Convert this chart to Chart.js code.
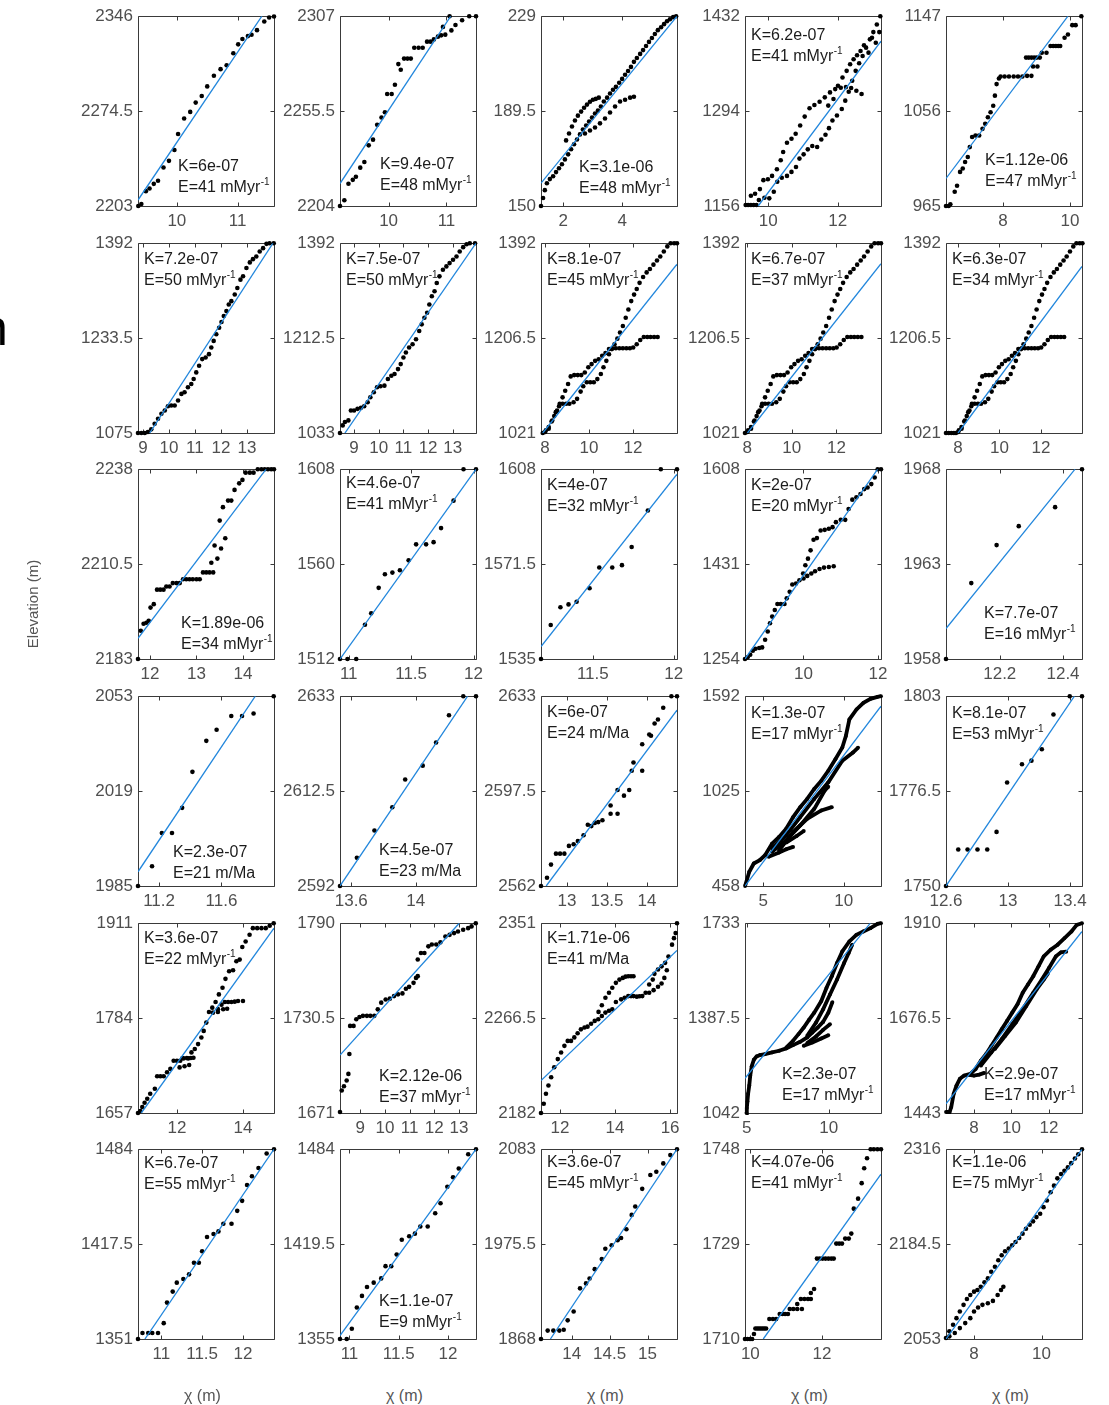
<!DOCTYPE html>
<html>
<head>
<meta charset="utf-8">
<script src="https://cdn.jsdelivr.net/npm/chart.js@4.4.0/dist/chart.umd.min.js"></script>
<style>
  body { margin: 0; background: #fff; width: 1109px; height: 1405px; position: relative; overflow: hidden;
         font-family: "Liberation Sans", Arial, Helvetica, sans-serif; }
  canvas { position: absolute; }
  .eje { position: absolute; color: #555; font-size: 16px; white-space: nowrap; }
</style>
</head>
<body>
<script>
// ---- DATOS (fila por fila, 5 paneles por fila) ----
const yTicks = [
  [2203, 2274.5, 2346], [2204, 2255.5, 2307], [150, 189.5, 229], [1156, 1294, 1432], [965, 1056, 1147],
  [1075, 1233.5, 1392], [1033, 1212.5, 1392], [1021, 1206.5, 1392], [1021, 1206.5, 1392], [1021, 1206.5, 1392],
  [2183, 2210.5, 2238], [1512, 1560, 1608], [1535, 1571.5, 1608], [1254, 1431, 1608], [1958, 1963, 1968],
  [1985, 2019, 2053], [2592, 2612.5, 2633], [2562, 2597.5, 2633], [458, 1025, 1592], [1750, 1776.5, 1803],
  [1657, 1784, 1911], [1671, 1730.5, 1790], [2182, 2266.5, 2351], [1042, 1387.5, 1733], [1443, 1676.5, 1910],
  [1351, 1417.5, 1484], [1355, 1419.5, 1484], [1868, 1975.5, 2083], [1710, 1729, 1748], [2053, 2184.5, 2316]
];
const xLimits = [
  [9.36, 11.6], [9.16, 11.51], [1.25, 5.86], [9.33, 13.25], [6.3, 10.36],
  [8.81, 14.04], [8.43, 13.94], [7.82, 14.0], [7.9, 14.0], [7.42, 13.98],
  [11.74, 14.67], [10.93, 12.02], [11.18, 12.02], [8.43, 12.08], [12.03, 12.46],
  [11.065, 11.937], [13.53, 14.375], [12.675, 14.375], [3.875, 12.31], [12.6, 13.477],
  [10.82, 14.94], [8.18, 13.69], [11.31, 16.25], [4.9, 13.19], [6.51, 13.76],
  [10.715, 12.38], [10.904, 12.284], [13.594, 15.389], [9.85, 13.65], [7.17, 11.2]
];
const xTicks = [
  [10, 11], [10, 11], [2, 4], [10, 12], [8, 10],
  [9, 10, 11, 12, 13], [9, 10, 11, 12, 13], [8, 10, 12], [8, 10, 12], [8, 10, 12],
  [12, 13, 14], [11, 11.5, 12], [11.5, 12], [10, 12], [12.2, 12.4],
  [11.2, 11.6], [13.6, 14], [13, 13.5, 14], [5, 10], [12.6, 13, 13.4],
  [12, 14], [9, 10, 11, 12, 13], [12, 14, 16], [5, 10], [8, 10, 12],
  [11, 11.5, 12], [11, 11.5, 12], [14, 14.5, 15], [10, 12], [8, 10]
];
const kText = [
  'K=6e-07', 'K=9.4e-07', 'K=3.1e-06', 'K=6.2e-07', 'K=1.12e-06',
  'K=7.2e-07', 'K=7.5e-07', 'K=8.1e-07', 'K=6.7e-07', 'K=6.3e-07',
  'K=1.89e-06', 'K=4.6e-07', 'K=4e-07', 'K=2e-07', 'K=7.7e-07',
  'K=2.3e-07', 'K=4.5e-07', 'K=6e-07', 'K=1.3e-07', 'K=8.1e-07',
  'K=3.6e-07', 'K=2.12e-06', 'K=1.71e-06', 'K=2.3e-07', 'K=2.9e-07',
  'K=6.7e-07', 'K=1.1e-07', 'K=3.6e-07', 'K=4.07e-06', 'K=1.1e-06'
];
const eText = [
  'E=41 mMyr^-1', 'E=48 mMyr^-1', 'E=48 mMyr^-1', 'E=41 mMyr^-1', 'E=47 mMyr^-1',
  'E=50 mMyr^-1', 'E=50 mMyr^-1', 'E=45 mMyr^-1', 'E=37 mMyr^-1', 'E=34 mMyr^-1',
  'E=34 mMyr^-1', 'E=41 mMyr^-1', 'E=32 mMyr^-1', 'E=20 mMyr^-1', 'E=16 mMyr^-1',
  'E=21 m/Ma', 'E=23 m/Ma', 'E=24 m/Ma', 'E=17 mMyr^-1', 'E=53 mMyr^-1',
  'E=22 mMyr^-1', 'E=37 mMyr^-1', 'E=41 m/Ma', 'E=17 mMyr^-1', 'E=17 mMyr^-1',
  'E=55 mMyr^-1', 'E=9 mMyr^-1', 'E=45 mMyr^-1', 'E=41 mMyr^-1', 'E=75 mMyr^-1'
];
// recta ajustada: x0, y0, x1, y1
const fitLines = [
  [9.36, 2207.5, 11.40, 2346], [9.16, 2216.2, 11.073, 2307], [1.25, 159.5, 5.86, 229], [9.71, 1156, 13.25, 1395.8], [6.3, 991.4, 9.94, 1147],
  [9.26, 1075, 14.0, 1392], [8.63, 1033, 13.94, 1392], [7.9, 1021, 14.0, 1351], [8.01, 1021, 14.0, 1352], [8.0, 1021, 13.98, 1346.7],
  [11.74, 2189, 14.50, 2238], [10.93, 1512, 12.02, 1608], [11.18, 1539.8, 12.02, 1606.1], [8.43, 1254, 11.99, 1608], [12.03, 1959.6, 12.438, 1968],
  [11.065, 1990.1, 11.817, 2053], [13.53, 2592, 14.323, 2633], [12.74, 2562, 14.375, 2627.8], [3.875, 458, 12.31, 1532.6], [12.6, 1750, 13.428, 1803],
  [10.92, 1657, 14.94, 1904.4], [8.18, 1707.3, 13.01, 1790], [11.31, 2210.9, 16.25, 2326.8], [4.9, 1168.5, 12.54, 1733], [6.51, 1465.8, 13.76, 1889.6],
  [10.8, 1351, 12.38, 1484], [10.904, 1357.3, 12.284, 1484], [13.718, 1868, 15.389, 2083], [10.36, 1710, 13.65, 1743], [7.17, 2053, 11.2, 2316]
];

// puntos (x, y alternados)
const pts01 = [9.365,2203, 9.415,2204.5, 9.49,2214.2, 9.55,2216.2, 9.62,2219.7, 9.69,2222, 9.78,2232, 9.87,2237, 9.96,2245.2, 10.02,2257.2, 10.12,2268.9, 10.22,2273.9, 10.31,2280.9, 10.41,2285.9, 10.5,2293.1, 10.61,2301.1, 10.72,2306.1, 10.82,2309.1, 10.93,2318.1, 11.01,2324.8, 11.08,2328.8, 11.17,2331, 11.23,2332, 11.32,2335.5, 11.44,2342, 11.52,2345, 11.6,2345.8];
const pts02 = [9.16,2204, 9.235,2207.1, 9.306,2216.1, 9.381,2218.2, 9.435,2219.9, 9.51,2224.8, 9.581,2227.9, 9.656,2236.9, 9.731,2240, 9.802,2248.1, 9.877,2252, 9.936,2254.9, 9.975,2264.8, 10.053,2264.8, 10.109,2269.8, 10.168,2281, 10.21,2277.9, 10.267,2284, 10.326,2284, 10.384,2284, 10.443,2289.9, 10.518,2289.9, 10.589,2289.9, 10.664,2293.2, 10.723,2293.2, 10.782,2294.4, 10.852,2295.9, 10.908,2296.6, 10.939,2301.2, 10.979,2297, 11.054,2307, 11.085,2299.3, 11.155,2302.2, 11.27,2304.8, 11.393,2307, 11.51,2307];
const pts03a = [1.25,150, 1.32,153.3, 1.38,156.6, 1.45,159.5, 1.55,161.2, 1.66,162.4, 1.76,164.1, 1.86,165.7, 1.96,167.4, 2.06,169.4, 2.17,171.5, 2.27,173.6, 2.37,175.7, 2.47,177.7, 2.57,179.8, 2.67,181.8, 2.78,183.5, 2.88,185.2, 2.98,186.8, 3.08,188.5, 3.18,189.7, 3.28,191.4, 3.38,193.5, 3.49,195.1, 3.59,196.8, 3.69,198.4, 3.79,199.6, 3.9,201.3, 4.0,202.9, 4.1,204.6, 4.2,206.2, 4.3,207.9, 4.4,210, 4.5,211.6, 4.61,213.3, 4.71,214.9, 4.81,216.6, 4.91,218.3, 5.01,219.9, 5.11,221.6, 5.21,223.2, 5.32,224.4, 5.42,225.7, 5.52,226.9, 5.62,227.7, 5.73,228.6, 5.83,229];
const pts03b = [2.1,177.3, 2.2,180.2, 2.3,183.1, 2.4,185.6, 2.5,187.6, 2.61,189.3, 2.71,190.9, 2.81,192.2, 2.91,193.4, 3.01,194.2, 3.11,194.6, 3.21,195.1];
const pts03c = [2.74,180.2, 2.91,181.4, 3.08,182.7, 3.25,184.4, 3.42,186.4, 3.59,188.9, 3.76,191.4, 3.93,193.5, 4.1,194.2, 4.27,195.1, 4.4,195.5];
const pts04 = [9.35,1157.4, 9.42,1157.4, 9.5,1157.4, 9.58,1157.4, 9.66,1157.4,
  9.5,1170.9, 9.62,1173.8, 9.76,1180.6, 9.86,1193.6, 9.99,1195, 10.11,1199.8, 10.25,1209.5, 10.36,1222.5, 10.43,1234.5, 10.54,1248, 10.67,1253.8, 10.79,1261, 10.92,1273, 11.05,1286, 11.19,1298.1, 11.33,1302.9, 11.48,1307.7, 11.63,1314, 11.78,1321.2, 11.93,1326, 12.09,1328, 12.24,1328.9, 12.39,1327.5, 12.54,1323.6, 12.69,1318.8,
  9.73,1164.7, 9.89,1168, 10.03,1167.1, 10.16,1176.7, 10.26,1191.2, 10.39,1197, 10.54,1199.8, 10.67,1205.6, 10.8,1212.8, 10.9,1224.9, 11.02,1231.1, 11.14,1238.4, 11.27,1243.2, 11.41,1241.7, 11.53,1252.8, 11.65,1259.6, 11.75,1269.2, 11.85,1280.3, 11.98,1287.5, 12.12,1297.1, 12.22,1309.2, 12.32,1322.2, 12.42,1338.1, 12.52,1352.5, 12.62,1363.6, 12.72,1374.2, 12.82,1386.3, 12.93,1398.3, 13.03,1408.9, 13.13,1420, 13.23,1432,
  11.73,1302, 11.88,1311.6, 12.01,1330.9, 12.14,1342.9, 12.26,1352.5, 12.36,1362.2, 12.46,1369.4, 12.56,1375.2, 12.66,1381.4, 12.76,1389.6, 12.89,1379, 12.99,1400.7, 13.1,1393.5, 13.2,1408.9];
const pts05 = [6.3,965, 6.38,965, 6.43,966.6, 6.56,978.7, 6.63,984.4, 6.72,997.7, 6.8,1000.9, 6.87,1007.2, 6.95,1012, 7.01,1021.5, 7.08,1031.1, 7.18,1032.6, 7.29,1032.6, 7.39,1039, 7.47,1043.8, 7.55,1050.1, 7.63,1054.9, 7.71,1061.2, 7.76,1070.8, 7.81,1081.9, 7.88,1087.3,
  7.93,1089.2, 8.05,1089.2, 8.18,1089.2, 8.32,1089.2, 8.45,1089.2, 8.58,1089.2, 8.72,1089.8, 8.85,1089.8,
  8.69,1107.3, 8.77,1107.3, 8.85,1107.3, 8.93,1107.3, 9.01,1107.3, 9.1,1107.3, 8.9,1098.7, 9.03,1098.7,
  9.16,1112, 9.3,1112, 9.42,1118.4, 9.5,1118.4, 9.58,1118.4, 9.65,1118.4, 9.71,1118.4, 9.84,1126.3, 9.94,1129.5, 10.07,1138.4, 10.17,1138.4, 10.34,1147];
const pts06 = [8.81,1075, 8.94,1075, 9.07,1075, 9.19,1076.7, 9.32,1081.1, 9.45,1090.5, 9.58,1098.8, 9.71,1107.1, 9.84,1112.6, 9.96,1119.8, 10.09,1120.9, 10.22,1120.9, 10.35,1129.2, 10.48,1140.3, 10.6,1143, 10.73,1151.3, 10.86,1156.9, 10.95,1165.2, 11.05,1176.2, 11.16,1187.3, 11.28,1198.4, 11.41,1201.1, 11.54,1206.7, 11.63,1217.7, 11.72,1228.8, 11.82,1239.9, 11.93,1250.9, 12.02,1260.3, 12.11,1270.3, 12.21,1278.6, 12.3,1289.6, 12.4,1295.2, 12.53,1306.2, 12.63,1317.3, 12.75,1331.1, 12.85,1336.7, 12.98,1350.5, 13.11,1359.9, 13.23,1365.4, 13.36,1369.9, 13.49,1378.2, 13.62,1383.7, 13.75,1390.9, 13.87,1392, 14.03,1392];
const pts07 = [8.43,1033, 8.54,1047.4, 8.63,1053.7, 8.77,1056.8, 8.87,1075.6, 9.0,1075.6, 9.14,1078.7, 9.28,1080.6, 9.41,1083.7, 9.55,1091.3, 9.66,1100.7, 9.8,1110.1, 9.93,1119.5, 10.07,1121.3, 10.23,1122.6, 10.37,1135.1, 10.51,1141.4, 10.64,1144.5, 10.78,1153.9, 10.89,1163.3, 11.0,1175.8, 11.1,1185.2, 11.23,1194.6, 11.37,1200.9, 11.51,1210.3, 11.64,1226, 11.74,1238.5, 11.85,1251, 11.96,1260.4, 12.05,1276.1, 12.15,1291.7, 12.26,1301.1, 12.35,1316.8, 12.46,1329.3, 12.6,1341.9, 12.74,1348.1, 12.87,1354.4, 13.01,1360.7, 13.15,1366.9, 13.28,1376.3, 13.42,1384.5, 13.56,1390.1, 13.69,1392, 13.9,1392];
// mismo río en los paneles 8, 9 y 10
const rio08A = [7.9,1021, 8.04,1026.2, 8.17,1032.5, 8.3,1043.6, 8.42,1054, 8.55,1065.1, 8.67,1078.1, 8.8,1090.7, 8.92,1103.7, 9.05,1116.7, 9.17,1131.6, 9.33,1134.2, 9.49,1134.2, 9.65,1134.2, 9.81,1139.3, 9.97,1149.4, 10.12,1155.7, 10.28,1162, 10.44,1165.3, 10.6,1172, 10.75,1177.2, 10.91,1185, 11.07,1186.8, 11.22,1186.8, 11.38,1186.8, 11.54,1186.8, 11.7,1186.8, 11.86,1186.8, 12.01,1188, 12.17,1194.6, 12.33,1202.8, 12.49,1208.7, 12.65,1208.7, 12.8,1208.7, 12.96,1208.7, 13.12,1208.7];
const rio08B = [8.01,1022.9, 8.17,1029.5, 8.33,1045.5, 8.49,1061.8, 8.64,1073.3, 8.8,1078.1, 8.96,1078.1, 9.11,1078.1, 9.3,1081.1, 9.46,1087.8, 9.62,1101.9, 9.74,1112.3, 9.9,1120.1, 10.06,1120.1, 10.22,1120.1, 10.38,1126.4, 10.54,1136.4, 10.66,1149.4, 10.79,1162, 10.91,1175, 11.04,1185, 11.16,1194.6, 11.29,1205.4, 11.41,1217.3, 11.54,1230.2, 11.67,1246.2, 11.79,1262.5, 11.92,1278.8, 12.05,1291.5, 12.17,1302.6, 12.3,1314.5, 12.46,1326, 12.62,1334.9, 12.77,1341.5, 12.93,1350.1, 13.09,1358.2, 13.24,1366, 13.4,1375.7, 13.56,1385.7, 13.71,1392, 13.87,1392, 14.0,1392];
const pts10 = [7.42,1021, 7.55,1021, 7.68,1021, 7.8,1021];
const pts11 = [11.74,2183, 11.8,2191.2, 11.86,2193.2, 11.92,2193.5, 11.97,2194.1, 12.01,2197.9, 12.08,2198.9, 12.15,2203.1, 12.22,2203.1, 12.29,2203.1, 12.35,2204, 12.42,2204, 12.49,2205, 12.57,2205, 12.64,2205, 12.71,2206.1, 12.78,2206.1, 12.85,2206.1, 12.92,2206.1, 13.0,2206.1, 13.07,2206.1, 13.14,2208.1, 13.21,2208.1, 13.28,2208.1, 13.36,2208.1, 13.32,2210.9, 13.45,2212.1, 13.39,2215.9, 13.53,2215, 13.62,2218, 13.5,2223.1, 13.57,2227, 13.68,2228.9, 13.75,2228.9, 13.82,2232, 13.92,2233.9, 13.99,2234.9, 14.06,2237, 14.15,2237, 14.23,2237, 14.32,2238, 14.4,2238, 14.47,2238, 14.54,2238, 14.61,2238, 14.67,2238];
const pts12 = [10.93,1512, 10.99,1512, 11.06,1512, 11.13,1529.3, 11.18,1535.1, 11.24,1548, 11.29,1554.9, 11.35,1555.7, 11.41,1556.9, 11.48,1561.9, 11.54,1570, 11.62,1570, 11.68,1571.1, 11.74,1578.2, 11.84,1592.1, 11.92,1608, 12.02,1608];
const pts13 = [11.18,1535, 11.24,1548.1, 11.3,1554.9, 11.35,1556, 11.4,1557, 11.48,1562.2, 11.54,1570.2, 11.62,1570.2, 11.68,1571.1, 11.74,1578.1, 11.84,1592.1, 11.92,1608, 12.02,1608];
const pts14a = [8.43,1254, 8.5,1257.1, 8.57,1262, 8.64,1269.4, 8.71,1273.2, 8.81,1274.4, 8.89,1275.6, 8.97,1289.8, 9.04,1305.3, 9.1,1320.7, 9.16,1333.1, 9.23,1345.4, 9.3,1356.6, 9.39,1356.6, 9.49,1356.6, 9.55,1367.1, 9.63,1379.4, 9.7,1393, 9.8,1394.9, 9.89,1401, 9.99,1413.4, 10.05,1428.8, 10.12,1441.2, 10.19,1456.6, 10.27,1476.4, 10.36,1479.5, 10.46,1493.7, 10.57,1494.9, 10.68,1496.8, 10.78,1499.9, 10.87,1509.2, 11.0,1513.5, 11.12,1513.5, 11.21,1533.9, 11.31,1551.2, 11.42,1555.5, 11.53,1561.7, 11.63,1570.9, 11.72,1574, 11.82,1580.2, 11.91,1592.6, 11.99,1608, 12.08,1608];
const pts14b = [10.0,1404.1, 10.1,1409, 10.21,1413.4, 10.31,1417.7, 10.43,1422, 10.55,1424.5, 10.68,1425.7, 10.81,1427];
const pts15 = [12.03,1958, 12.11,1962, 12.19,1964, 12.26,1965, 12.375,1966, 12.46,1968];
const pts16 = [11.065,1985, 11.155,1992.1, 11.218,2004, 11.283,2004, 11.348,2013, 11.414,2025.9, 11.503,2037, 11.569,2041, 11.663,2045.9, 11.732,2045.9, 11.806,2046.8, 11.935,2053];
const pts17 = [13.53,2592, 13.635,2598.1, 13.744,2604, 13.855,2609, 13.935,2615, 14.044,2618, 14.127,2623, 14.207,2628.9, 14.296,2633, 14.375,2633];
const pts18 = [12.675,2562, 12.75,2565.1, 12.8,2570, 12.862,2574.1, 12.913,2574.1, 12.967,2574.1, 13.024,2577, 13.083,2577.6, 13.136,2578.8, 13.207,2581, 13.26,2584.9, 13.304,2584.4, 13.347,2585.6, 13.391,2585.9, 13.443,2586.6, 13.545,2592.1, 13.545,2589, 13.632,2589, 13.632,2597.9, 13.712,2595.8, 13.778,2597.9, 13.809,2605.1, 13.831,2608.2, 13.94,2615, 13.94,2605.1, 14.028,2618.7, 14.05,2618.2, 14.095,2622.8, 14.137,2624.3, 14.203,2628.7, 14.305,2633, 14.375,2633];
const t19a = [3.88,458, 4.14,543, 4.42,592.6, 4.79,612.4, 5.12,642, 5.55,711.3, 5.99,750.9, 6.43,800.4, 6.86,869.6, 7.3,929, 7.73,978.5, 8.17,1037.8, 8.61,1087.3, 9.04,1146.7, 9.48,1215.9, 9.91,1285.2, 10.13,1354.5, 10.35,1453.4, 10.79,1512.8, 11.22,1552.4, 11.66,1576.1, 12.09,1588, 12.31,1592];
const t19b = [5.55,681.6, 6.43,760.8, 7.3,869.6, 8.17,978.5, 9.04,1077.4, 9.91,1206.1, 10.57,1255.5, 10.89,1285.2];
const t19c = [5.55,661.8, 6.43,731.1, 7.3,820.2, 8.17,919.1, 8.82,1028, 9.04,1051.7];
const t19d = [5.99,671.7, 6.86,780.6, 7.73,859.7, 8.61,909.2, 9.26,929];
const t19e = [5.34,632.2, 5.99,657.9, 6.43,677.7, 6.86,691.5];
const t19f = [6.43,717.2, 7.08,756.8, 7.52,786.5];
const pts20 = [12.6,1750, 12.679,1760.2, 12.739,1760.2, 12.803,1760.2, 12.866,1760.2, 12.926,1765.1, 12.994,1778.9, 13.09,1784, 13.151,1785, 13.218,1788.2, 13.293,1797.9, 13.398,1803, 13.477,1803];
const pts21a = [10.82,1657, 10.89,1659.7, 10.95,1665, 11.02,1670.7, 11.1,1676.1, 11.19,1682.7, 11.33,1689.4, 11.4,1706.2, 11.5,1706.2, 11.6,1706.2, 11.7,1711.5, 11.8,1716, 11.9,1727, 12.0,1727, 12.1,1727, 12.2,1730.1, 12.34,1730.1, 12.44,1738.1, 12.54,1742.6, 12.64,1749.2, 12.74,1758.1, 12.81,1766.9, 12.89,1778, 12.97,1792.2, 13.07,1798, 13.17,1805.5, 13.27,1815.7, 13.38,1824.6, 13.47,1836.5, 13.58,1846.7, 13.7,1848.1, 13.8,1860, 13.9,1862.3, 13.98,1879.1, 14.08,1886.6, 14.2,1895.5, 14.3,1904.4, 14.43,1904.4, 14.56,1904.4, 14.69,1904.4, 14.81,1907.5, 14.93,1911];
const pts21b = [13.24,1796, 13.35,1802, 13.45,1805.5, 13.55,1805.5, 13.65,1805.5, 13.75,1806, 13.85,1806.8, 14.0,1806.8];
const pts21c = [13.09,1791.3, 13.24,1792.2, 13.4,1795.8, 13.52,1796.6];
const pts21d = [12.17,1730.6, 12.3,1730.6, 12.42,1730.6, 12.5,1731];
const pts21e = [12.08,1718, 12.23,1719.5, 12.37,1721.3];
const pts22 = [8.18,1671.6, 8.25,1685.1, 8.34,1687.8, 8.45,1691.4, 8.52,1695.5, 8.56,1708, 8.59,1725.6, 8.73,1725.6, 8.84,1729.8, 8.97,1731.2, 9.11,1731.9, 9.27,1731.9, 9.41,1731.9, 9.57,1731.9, 9.71,1736, 9.85,1740.2, 10.03,1742.2, 10.2,1742.7, 10.37,1744.3, 10.53,1745.4, 10.71,1746, 10.85,1748.9, 10.98,1750.1, 11.16,1752.6, 11.26,1755.7, 11.33,1756.8, 11.33,1767.2, 11.46,1771.3, 11.6,1771.3, 11.76,1775.5, 11.9,1776.6, 12.08,1776.6, 12.25,1778, 12.45,1781.7, 12.62,1782.7, 12.8,1783.8, 12.96,1784.8, 13.17,1785.9, 13.37,1786.9, 13.51,1788, 13.68,1790];
const pts23a = [11.31,2182, 11.41,2190.3, 11.49,2199.1, 11.58,2206.5, 11.68,2213.8, 11.79,2222.7, 11.92,2230, 12.04,2235.9, 12.16,2241.8, 12.28,2246.2, 12.4,2246.2, 12.52,2249.3, 12.64,2253, 12.76,2256.5, 12.89,2258.1, 13.0,2258.9, 13.13,2261.5, 13.26,2264, 13.39,2265.5, 13.52,2268.4, 13.65,2271.4, 13.78,2273, 13.9,2274.3, 14.03,2280.9, 14.22,2283.2, 14.35,2284.6, 14.48,2286.1, 14.58,2286.1, 14.67,2286.1, 14.79,2285.6, 14.89,2286, 14.99,2286.1, 15.11,2289.1, 15.24,2296.4, 15.37,2300.8, 15.43,2305.9, 15.56,2309.8, 15.69,2312.6, 15.82,2315.7, 15.94,2321.4, 16.07,2331.9, 16.14,2337.7, 16.2,2342.2, 16.25,2351];
const pts23b = [13.4,2272, 13.52,2278, 13.65,2284.6, 13.78,2289.1, 13.9,2293.5, 14.03,2297.9, 14.16,2300.8, 14.28,2302.3, 14.38,2303.4, 14.48,2303.8, 14.58,2303.8, 14.67,2303.8];
const pts23c = [15.24,2289.1, 15.4,2291.4, 15.56,2294.4, 15.69,2297.3, 15.79,2302.3, 15.88,2309.1];
const t24a = [4.99,1042, 5.01,1060.1, 5.05,1084.2, 5.09,1112, 5.16,1142.1, 5.22,1178.3, 5.31,1212, 5.44,1236.2, 5.61,1248.2, 5.82,1253.1, 6.12,1256.7, 6.55,1262.7, 6.98,1268.7, 7.41,1277.2, 7.83,1289.2, 8.26,1301.3, 8.69,1317, 9.01,1335.1, 9.33,1353.1, 9.66,1373.7, 9.98,1407.4, 10.23,1446];
const t24b = [7.41,1280, 7.83,1304.9, 8.16,1329, 8.48,1353.1, 8.8,1380.9, 9.12,1407.4, 9.55,1449.6, 9.87,1497.9, 10.19,1540.1, 10.51,1588.3, 10.83,1630.5, 11.26,1666.7, 11.69,1690.8, 12.11,1702.9, 12.55,1714.9, 12.98,1730.6, 13.19,1733];
const t24c = [8.69,1323, 9.23,1371.2, 9.66,1419.5, 10.08,1473.7, 10.51,1528, 10.94,1588.3, 11.22,1624.5, 11.43,1654.6];
const t24d = [8.48,1286.8, 9.01,1298.9, 9.55,1313.4, 9.98,1325.4];
const t24e = [8.69,1296.5, 9.23,1320.6, 9.66,1344.7, 10.08,1365.2];
const t25a = [6.51,1445.4, 6.7,1445.4, 6.79,1457.7, 6.92,1490.3, 7.07,1510.6, 7.25,1527, 7.48,1535.1, 7.81,1539.2, 8.09,1551.4, 8.37,1571.8, 8.65,1588.1, 8.93,1608.4, 9.21,1628.8, 9.48,1649.2, 9.76,1669.6, 10.04,1690, 10.32,1710.3, 10.6,1738.8, 10.88,1759.2, 11.16,1779.6, 11.44,1804, 11.72,1828.5, 12.09,1844.8, 12.46,1857, 12.83,1873.3, 13.2,1889.6, 13.48,1905.9, 13.76,1910];
const t25b = [8.37,1559.5, 8.93,1592.1, 9.48,1624.7, 10.04,1661.4, 10.6,1698.1, 11.16,1738.8, 11.62,1771.4, 12.0,1800, 12.37,1828.5, 12.64,1838.3, 12.92,1839.9];
const t25c = [9.11,1600.3, 9.67,1632.9, 10.23,1665.5, 10.79,1706.2, 11.34,1747, 11.72,1771.4, 11.94,1786.1];
const t25d = [7.72,1536.7, 8.0,1535.1, 8.28,1537.5, 8.55,1541.6];
const pts26 = [10.715,1351, 10.77,1355.2, 10.84,1355.2, 10.89,1355.2, 10.96,1355.2, 11.03,1362.1, 11.07,1376.5, 11.14,1384.2, 11.19,1390.5, 11.27,1393, 11.34,1396.3, 11.4,1404.4, 11.46,1404.4, 11.5,1412.5, 11.56,1422.5, 11.64,1424.6, 11.7,1426.4, 11.76,1431.8, 11.86,1431.8, 11.93,1440.8, 11.99,1447.8, 12.05,1458.9, 12.11,1465, 12.19,1470.8, 12.29,1481, 12.38,1484];
const pts27 = [10.904,1355, 10.972,1355, 11.024,1362, 11.075,1376.4, 11.127,1384.3, 11.178,1390.3, 11.246,1393.3, 11.322,1396.2, 11.366,1404.5, 11.424,1404.5, 11.479,1412.4, 11.531,1422.5, 11.606,1424.8, 11.664,1426.6, 11.719,1431.5, 11.794,1431.5, 11.87,1440.5, 11.924,1447.3, 11.993,1458.5, 12.051,1464.9, 12.109,1470.9, 12.205,1480.6, 12.284,1484];
const pts28 = [13.594,1868, 13.682,1877.5, 13.757,1877.5, 13.836,1877.5, 13.894,1878.5, 13.946,1889.1, 14.025,1899.2, 14.109,1925.4, 14.188,1931, 14.235,1936.6, 14.303,1947.1, 14.396,1958.5, 14.443,1970.3, 14.526,1974.2, 14.605,1979.8, 14.651,1982.4, 14.721,1992.3, 14.791,2008.6, 14.838,2018.1, 14.93,2038.1, 15.037,2053.8, 15.116,2057.4, 15.208,2066.9, 15.301,2076.3, 15.389,2083];
const pts29 = [9.85,1710, 9.92,1710, 9.99,1710, 10.05,1710, 10.1,1711, 10.14,1712.1, 10.19,1712.1, 10.24,1712.1, 10.29,1712.1, 10.34,1712.1, 10.39,1712.1, 10.44,1712.1, 10.53,1714, 10.63,1714, 10.72,1714, 10.82,1715, 10.9,1715, 10.97,1715, 11.05,1715, 11.1,1716, 11.2,1716, 11.31,1716, 11.44,1716, 11.31,1717, 11.41,1718, 11.51,1718, 11.61,1718, 11.69,1718, 11.69,1719.2, 11.78,1720, 11.86,1726.1, 11.94,1726.1, 12.02,1726.1, 12.1,1726.1, 12.18,1726.1, 12.26,1726.1, 12.33,1726.1, 12.4,1729.1, 12.48,1729.1, 12.56,1729.1, 12.65,1730.1, 12.75,1730.1, 12.82,1731.1, 12.89,1736.1, 13.01,1738.1, 13.11,1741.2, 13.18,1744.2, 13.26,1746.2, 13.36,1748, 13.45,1748, 13.55,1748, 13.65,1748];
const pts30a = [7.17,2054.4, 7.27,2063.6, 7.38,2072.7, 7.48,2081.9, 7.58,2091.1, 7.69,2100.3, 7.79,2108.5, 7.89,2114, 8.0,2118.6, 8.1,2120.9, 8.2,2125.5, 8.31,2131.5, 8.41,2137, 8.51,2146.2, 8.62,2153.1, 8.72,2162.2, 8.82,2169.1, 8.92,2174.6, 9.03,2178.3, 9.13,2182.9, 9.23,2187.5, 9.34,2193, 9.44,2199, 9.54,2205.8, 9.65,2211.4, 9.75,2216, 9.85,2221.9, 9.96,2226.5, 10.06,2235.7, 10.16,2244.9, 10.27,2256.3, 10.37,2265.5, 10.47,2275.6, 10.58,2281.6, 10.68,2286.2, 10.78,2290.8, 10.88,2296.7, 10.99,2303.2, 11.09,2309.1, 11.2,2316];
const pts30b = [7.27,2056.7, 7.43,2061.3, 7.58,2068.1, 7.74,2075, 7.89,2081.9, 8.0,2091.1, 8.12,2096.6, 8.25,2100.3, 8.41,2102.6, 8.56,2105.8, 8.7,2114, 8.8,2120.9, 8.87,2125.5];

const panelPts = [
  [pts01], [pts02], [pts03a, pts03b, pts03c], [pts04], [pts05],
  [pts06], [pts07], [rio08A, rio08B], [rio08A, rio08B], [rio08A, rio08B, pts10],
  [pts11], [pts12], [pts13], [pts14a, pts14b], [pts15],
  [pts16], [pts17], [pts18], [t19a, t19b, t19c, t19d, t19e, t19f], [pts20],
  [pts21a, pts21b, pts21c, pts21d, pts21e], [pts22], [pts23a, pts23b, pts23c], [t24a, t24b, t24c, t24d, t24e], [t25a, t25b, t25c, t25d],
  [pts26], [pts27], [pts28], [pts29], [pts30a, pts30b]
];
// paneles donde los puntos forman trazos continuos
const densos = [18, 23, 24];

// ---- LAYOUT ----
// [dx, dy] del texto K respecto a la esquina sup. izq. del panel
const textPlace = [
  [40, 150], [40, 148], [38, 151], [6, 19], [39, 144],
  [6, 16], [6, 16], [6, 16], [6, 16], [6, 16],
  [43, 154], [6, 14], [6, 16], [6, 16], [38, 144],
  [35, 156], [39, 154], [6, 16], [6, 17], [6, 17],
  [6, 15], [39, 153], [6, 15], [37, 151], [38, 151],
  [6, 14], [39, 152], [6, 13], [6, 13], [6, 13]
];
const colX = [138, 340, 541, 745, 946];
const filaY = [15, 242, 468, 695, 922, 1148];
const PW = 136, PH = 191, L = 80, T = 14, R = 22, B = 30;
const AZUL = '#2186dc';
const FUENTE = '"Liberation Sans", Arial, Helvetica, sans-serif';
Chart.defaults.font.family = FUENTE;

function aPuntos(plano) {
  const out = [];
  for (let k = 0; k < plano.length; k += 2) out.push({ x: plano[k], y: plano[k + 1] });
  return out;
}

function hacerMarco(i) {
  return {
    id: 'marco' + i,
    beforeDatasetsDraw(chart) {
      const { ctx, chartArea: a, scales } = chart;
      const l = Math.round(a.left) + .5, t = Math.round(a.top) + .5;
      const r = Math.round(a.right) + .5, b = Math.round(a.bottom) + .5;
      ctx.save();
      ctx.strokeStyle = '#3a3a3a';
      ctx.lineWidth = 1;
      ctx.beginPath();
      ctx.rect(l, t, r - l, b - t);
      xTicks[i].forEach(v => {
        const p = Math.round(scales.x.getPixelForValue(v)) + .5;
        ctx.moveTo(p, b); ctx.lineTo(p, b - 4);
        ctx.moveTo(p, t); ctx.lineTo(p, t + 4);
      });
      yTicks[i].forEach(v => {
        const p = Math.round(scales.y.getPixelForValue(v)) + .5;
        ctx.moveTo(l, p); ctx.lineTo(l + 4, p);
        ctx.moveTo(r, p); ctx.lineTo(r - 4, p);
      });
      ctx.stroke();
      ctx.restore();
    },
    afterDatasetsDraw(chart) {
      const { ctx, chartArea: a } = chart;
      const [dx, dy] = textPlace[i];
      const x0 = a.left + dx;
      ctx.save();
      ctx.fillStyle = '#1b1b1b';
      ctx.textBaseline = 'middle';
      ctx.font = '16px ' + FUENTE;
      ctx.fillText(kText[i], x0, a.top + dy);
      const [base, sup] = eText[i].split('^');
      const yE = a.top + dy + 21.5;
      ctx.fillText(base, x0, yE);
      if (sup) {
        const w = ctx.measureText(base).width;
        ctx.font = '10px ' + FUENTE;
        ctx.fillText(sup, x0 + w + 0.5, yE - 5);
      }
      ctx.restore();
    }
  };
}

function crearPanel(i) {
  const fila = Math.floor(i / 5), col = i % 5;
  const canvas = document.createElement('canvas');
  canvas.width = PW + L + R;
  canvas.height = PH + T + B;
  canvas.style.left = (colX[col] - L) + 'px';
  canvas.style.top = (filaY[fila] - T) + 'px';
  document.body.appendChild(canvas);

  const grueso = densos.includes(i);
  const datasets = [{
    data: aPuntos(fitLines[i]),
    showLine: true, borderColor: AZUL, borderWidth: 1.3,
    pointRadius: 0, clip: 0
  }];
  panelPts[i].forEach(tr => datasets.push({
    data: aPuntos(tr),
    showLine: grueso, borderColor: '#000', borderWidth: 3.8,
    pointRadius: grueso ? 1.9 : 2.3, pointBackgroundColor: '#000', pointBorderWidth: 0,
    clip: 4
  }));

  const tickFont = { size: 17, family: FUENTE };
  new Chart(canvas, {
    type: 'scatter',
    data: { datasets },
    options: {
      responsive: false, animation: false, devicePixelRatio: 1, events: [],
      layout: { padding: { top: T, right: R, left: 0, bottom: 0 } },
      plugins: { legend: { display: false }, tooltip: { enabled: false } },
      scales: {
        x: {
          type: 'linear', min: xLimits[i][0], max: xLimits[i][1],
          grid: { display: false, drawTicks: false }, border: { display: false },
          ticks: { font: tickFont, color: '#4f4f4f', padding: 5, maxRotation: 0, autoSkip: false, callback: v => String(v) },
          afterBuildTicks: s => { s.ticks = xTicks[i].map(v => ({ value: v })); },
          afterFit: s => { s.height = B; }
        },
        y: {
          type: 'linear', min: yTicks[i][0], max: yTicks[i][2],
          grid: { display: false, drawTicks: false }, border: { display: false },
          ticks: { font: tickFont, color: '#4f4f4f', padding: 5, autoSkip: false, callback: v => String(v) },
          afterBuildTicks: s => { s.ticks = yTicks[i].map(v => ({ value: v })); },
          afterFit: s => { s.width = L; }
        }
      }
    },
    plugins: [hacerMarco(i)]
  });
}

for (let i = 0; i < 30; i++) crearPanel(i);

// etiquetas de ejes
colX.forEach(x => {
  const d = document.createElement('div');
  d.className = 'eje';
  d.textContent = 'χ (m)';
  d.style.left = (x + PW / 2 - 22) + 'px';
  d.style.top = '1387px';
  document.body.appendChild(d);
});
const ylab = document.createElement('div');
ylab.className = 'eje';
ylab.textContent = 'Elevation (m)';
ylab.style.fontSize = '15px';
ylab.style.left = '32px';
ylab.style.top = '604px';
ylab.style.transform = 'translate(-50%, -50%) rotate(-90deg)';
document.body.appendChild(ylab);
const corte = document.createElement('div');
corte.className = 'eje';
corte.textContent = 'n';
corte.style.color = '#000';
corte.style.fontSize = '50px';
corte.style.lineHeight = '50px';
corte.style.left = '-20px';
corte.style.top = '303px';
document.body.appendChild(corte);
</script>
</body>
</html>
